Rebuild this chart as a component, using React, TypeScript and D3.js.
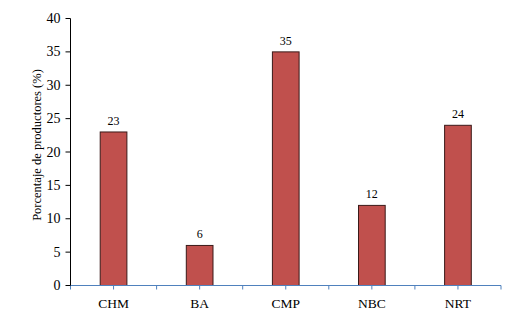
import React from "react";
import * as d3 from "d3";

const categories = ["CHM", "BA", "CMP", "NBC", "NRT"];
const values = [23, 6, 35, 12, 24];
const yTicks = [0, 5, 10, 15, 20, 25, 30, 35, 40];

const W = 507;
const H = 314;
const left = 70.5;
const right = 501;
const top = 18.5;
const bottom = 285.5;
const font = '"Liberation Serif"';

export default function App() {
  const x = d3.scaleBand<string>().domain(categories).range([left, right]).paddingInner(0).paddingOuter(0);
  const y = d3.scaleLinear().domain([0, 40]).range([bottom, top]);
  const bw = x.bandwidth() * 0.31;
  const boundaries = categories.map((c) => x(c) as number).concat([right]);
  return (
    <svg width={W} height={H} style={{ position: "absolute", left: 0, top: 0 }}>
      <rect x={0} y={0} width={W} height={H} fill="#fff" />
      {categories.map((c, i) => {
        const cx = (x(c) as number) + x.bandwidth() / 2;
        return (
          <g key={c}>
            <rect
              x={cx - bw / 2}
              y={y(values[i])}
              width={bw}
              height={bottom - y(values[i])}
              fill="#C0504D"
              stroke="#3a1a19"
              strokeWidth={1}
            />
            <text x={cx} y={y(values[i]) - 7} textAnchor="middle" fontSize={12} fill="#000" style={{ fontFamily: font }}>
              {values[i]}
            </text>
            <text x={cx} y={bottom + 22} textAnchor="middle" fontSize={13.5} fill="#000" style={{ fontFamily: font }}>
              {c}
            </text>
            <line x1={cx} x2={cx} y1={bottom} y2={bottom + 4} stroke="#4F81BD" strokeWidth={1} />
          </g>
        );
      })}
      {boundaries.map((b, i) => (
        <line key={"b" + i} x1={b} x2={b} y1={bottom} y2={bottom + 4} stroke="#4F81BD" strokeWidth={1} />
      ))}
      <line x1={left} x2={right} y1={bottom} y2={bottom} stroke="#4F81BD" strokeWidth={1} />
      <line x1={left} x2={left} y1={top} y2={bottom} stroke="#000" strokeWidth={1} />
      {yTicks.map((t) => (
        <g key={t}>
          <line x1={left - 5} x2={left} y1={y(t)} y2={y(t)} stroke="#000" strokeWidth={1} />
          <text x={left - 10} y={y(t) + 4.5} textAnchor="end" fontSize={14} fill="#000" style={{ fontFamily: font }}>
            {t}
          </text>
        </g>
      ))}
      <text
        transform={`translate(41, 145) rotate(-90)`}
        textAnchor="middle"
        fontSize={12.5}
        fill="#000"
        style={{ fontFamily: font }}
      >
        Porcentaje de productores (%)
      </text>
    </svg>
  );
}
